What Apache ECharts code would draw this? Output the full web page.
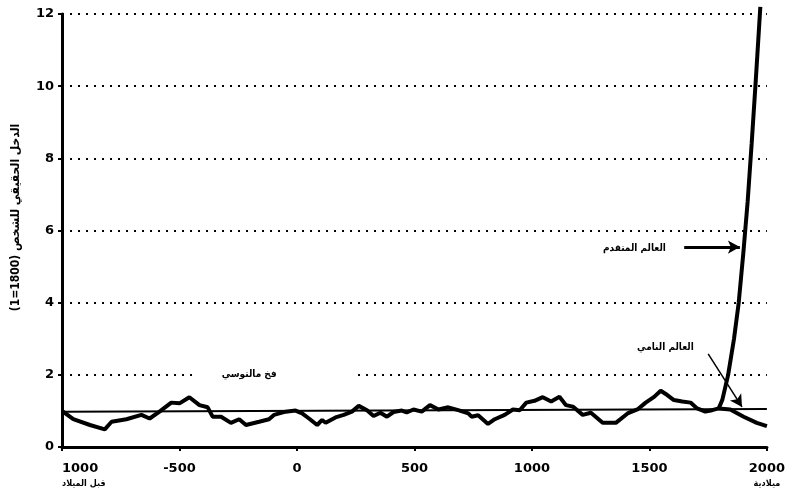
<!DOCTYPE html>
<html>
<head>
<meta charset="utf-8">
<script src="https://cdn.jsdelivr.net/npm/echarts@6/dist/echarts.min.js"></script>
<style>html,body{margin:0;padding:0;background:#fff}#chart{width:788px;height:503px}</style>
</head>
<body>
<div id="chart"></div>
<script>
// income per person, 1800 = 1
var years=[-1000,-952,-881,-818,-789,-726,-662,-627,-585,-535,-500,-458,-415,-380,-359,-323,-281,-246,-217,-161,-119,-98,-48,-6,22,51,86,107,122,164,199,234,263,298,326,355,383,411,446,467,496,531,566,602,644,686,729,743,771,813,842,884,919,948,976,1011,1046,1082,1117,1145,1174,1216,1251,1301,1357,1407,1449,1484,1520,1548,1576,1604,1640,1675,1703,1738,1767,1795];
var income=[1.0,0.77,0.61,0.49,0.70,0.77,0.89,0.79,0.98,1.23,1.21,1.38,1.16,1.10,0.84,0.84,0.67,0.77,0.61,0.70,0.77,0.89,0.98,1.01,0.93,0.79,0.61,0.75,0.67,0.82,0.89,0.98,1.14,1.02,0.86,0.95,0.84,0.97,1.01,0.96,1.04,0.98,1.16,1.04,1.10,1.02,0.93,0.84,0.88,0.64,0.77,0.89,1.04,1.02,1.23,1.28,1.38,1.26,1.39,1.16,1.12,0.89,0.95,0.67,0.67,0.93,1.04,1.23,1.39,1.56,1.44,1.30,1.26,1.23,1.07,0.98,1.02,1.07];
var richYears=[1795,1810,1835,1860,1880,1900,1918,1935,1952,1972];
var richIncome=[1.07,1.3,2.0,3.0,4.0,5.4,6.8,8.4,10.1,12.2];
var poorYears=[1795,1844,1901,1957,2000];
var poorIncome=[1.07,1.04,0.84,0.67,0.58];
var trapYears=[-1000,2000];
var trapIncome=[0.98,1.05];

var xTicks=[-1000,-500,0,500,1000,1500,2000];
var xTickLabels=['1000\nقبل الميلاد','-500','0','500','1000','1500','2000\nميلادية'];
var yTicks=[0,2,4,6,8,10,12];

var noteTexts=['فخ مالتوسي','العالم المتقدم','العالم النامي'];
var notePos=[[-97,2],[1436,5.51],[1568,2.77]];
var arrowFrom=[[1648,5.54],[1750,2.58]];
var arrowTo=[[1885,5.54],[1894,1.11]];

function pairs(xs,ys){
  var out=[];
  for(var i=0;i<xs.length;i++){ out.push([xs[i],ys[i]]); }
  return out;
}

var font='DejaVu Sans';
var arFont='DejaVu Sans Condensed';

var option={
  animation:false,
  backgroundColor:'#fff',
  grid:{left:62,right:18,top:14,bottom:56},
  xAxis:{
    type:'value',
    min:-1000,max:2000,interval:500,
    axisLine:{lineStyle:{color:'#000',width:3}},
    axisTick:{show:true,length:4,lineStyle:{color:'#000',width:2}},
    splitLine:{show:false},
    axisLabel:{
      margin:14,
      alignMinLabel:'left',
      formatter:function(v){
        var i=xTicks.indexOf(v);
        var s=i<0?'':xTickLabels[i];
        var parts=s.split('\n');
        return parts.length>1?'{a|'+parts[0]+'}\n{b|'+parts[1]+'}':'{a|'+s+'}';
      },
      rich:{
        a:{fontFamily:font,fontWeight:'bold',fontSize:13,color:'#000',lineHeight:16},
        b:{fontFamily:arFont,fontWeight:'bold',fontSize:9,color:'#000',lineHeight:13}
      }
    }
  },
  yAxis:{
    type:'value',
    min:0,max:12,interval:2,
    name:'الدخل الحقيقي للشخص (1800=1)',
    nameLocation:'middle',
    nameRotate:90,
    nameGap:40,
    nameTextStyle:{fontFamily:arFont,fontWeight:'bold',fontSize:12,color:'#000',padding:[0,0,0,26]},
    axisLine:{show:true,onZero:false,lineStyle:{color:'#000',width:3}},
    axisTick:{show:true,length:4,lineStyle:{color:'#000',width:2}},
    axisLabel:{margin:8,fontFamily:font,fontWeight:'bold',fontSize:13,color:'#000',
      formatter:function(v){ return yTicks.indexOf(v)>=0?String(v):''; }},
    splitLine:{show:true,lineStyle:{color:'#000',type:[2,6],width:2}}
  },
  series:[
    {
      name:'trap',type:'line',data:pairs(trapYears,trapIncome),
      symbol:'none',lineStyle:{color:'#000',width:2},z:2,
      markPoint:{
        symbol:'rect',symbolSize:1,itemStyle:{color:'rgba(0,0,0,0)'},
        label:{show:true,position:'inside',fontFamily:arFont,fontWeight:'bold',fontSize:10,color:'#000',
          formatter:function(p){ return p.name; }},
        data:noteTexts.map(function(t,i){
          var d={name:t,coord:notePos[i]};
          if(i===0){ d.label={backgroundColor:'#fff',padding:[4,78,4,28]}; }
          return d;
        })
      },
      markLine:{
        silent:true,symbol:['none','arrow'],symbolSize:[10,12],
        label:{show:false},
        data:arrowFrom.map(function(a,i){
          return [{coord:a,lineStyle:{color:'#000',width:i===0?3:1.5,type:'solid'}},{coord:arrowTo[i]}];
        })
      }
    },
    {name:'world',type:'line',data:pairs(years,income),symbol:'none',lineStyle:{color:'#000',width:4},z:3},
    {name:'rich',type:'line',data:pairs(richYears,richIncome),symbol:'none',clip:false,lineStyle:{color:'#000',width:4},z:3},
    {name:'poor',type:'line',data:pairs(poorYears,poorIncome),symbol:'none',lineStyle:{color:'#000',width:4},z:3}
  ]
};

var chart=echarts.init(document.getElementById('chart'));
chart.setOption(option);
</script>
</body>
</html>
